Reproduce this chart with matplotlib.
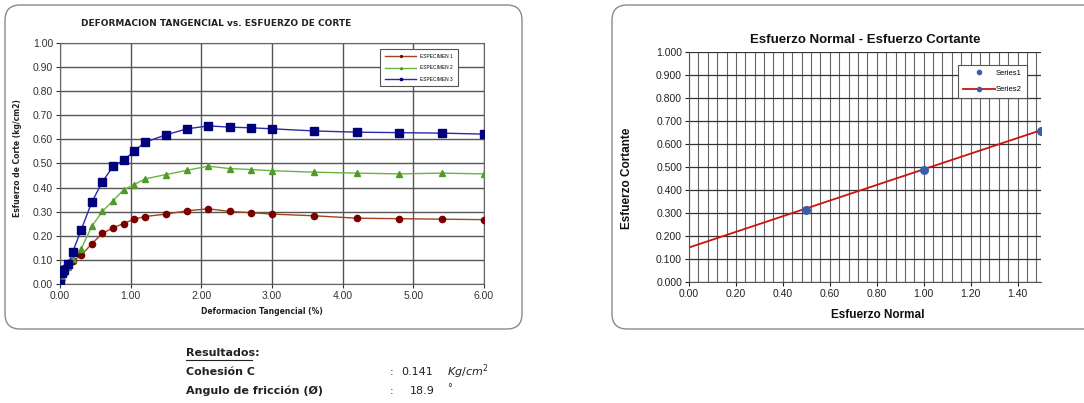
import numpy as np
import matplotlib
matplotlib.use('Agg')
import matplotlib.pyplot as plt
from matplotlib.patches import FancyBboxPatch
from matplotlib.lines import Line2D
from matplotlib.ticker import MultipleLocator

plt.rcParams['font.family'] = ['Liberation Sans', 'DejaVu Sans']

# --------------------------------------------------------------
# Data
# --------------------------------------------------------------
deformacion = [0.00, 0.03, 0.06, 0.12, 0.18, 0.30, 0.45, 0.60, 0.75, 0.90, 1.05, 1.20,
               1.50, 1.80, 2.10, 2.40, 2.70, 3.00, 3.60, 4.20, 4.80, 5.40, 6.00]
especimen_1 = [0.000, 0.055, 0.065, 0.088, 0.095, 0.119, 0.167, 0.210, 0.233, 0.251, 0.269, 0.280,
               0.290, 0.304, 0.312, 0.301, 0.296, 0.290, 0.283, 0.273, 0.271, 0.269, 0.267]
especimen_2 = [0.000, 0.030, 0.050, 0.070, 0.105, 0.146, 0.239, 0.302, 0.345, 0.391, 0.412, 0.436,
               0.454, 0.472, 0.489, 0.479, 0.475, 0.470, 0.464, 0.460, 0.457, 0.460, 0.457]
especimen_3 = [0.000, 0.046, 0.059, 0.084, 0.133, 0.225, 0.340, 0.424, 0.488, 0.514, 0.551, 0.588,
               0.619, 0.644, 0.656, 0.651, 0.648, 0.644, 0.635, 0.630, 0.628, 0.626, 0.622]
especimen_labels = ['ESPECIMEN 1', 'ESPECIMEN 2', 'ESPECIMEN 3']

esf_normal = [0.50, 1.00, 1.50]
esf_cortante = [0.312, 0.487, 0.656]
recta_x = [0.00, 1.50]
recta_y = [0.150, 0.660]

cohesion = '0.141'
angulo = '18.9'

W, H = 1084, 403

def fx(px):
    return px / W

def fy(py):
    return 1 - py / H

fig = plt.figure(figsize=(W / 100, H / 100), dpi=100)

# rounded frames
for x0, y0, x1, y1 in [(5, 5, 522, 329), (612, 5, 1120, 329)]:
    box = FancyBboxPatch((fx(x0), fy(y1)), fx(x1 - x0), (y1 - y0) / H,
                         boxstyle='round,pad=0,rounding_size=0.014',
                         transform=fig.transFigure, fill=False,
                         edgecolor='#8a8a8a', linewidth=1.0,
                         mutation_aspect=W / H)
    fig.add_artist(box)

# --------------------------------------------------------------
# Left chart
# --------------------------------------------------------------
ax1 = fig.add_axes([fx(60), fy(284), fx(424), 241 / H])
ax1.plot(deformacion, especimen_1, color='#a0451c', lw=1.0, marker='o', ms=4.5,
         mfc='#7a0000', mec='#7a0000', label=especimen_labels[0], zorder=3)
ax1.plot(deformacion, especimen_2, color='#6cb33f', lw=1.0, marker='^', ms=5,
         mfc='#4f9a2a', mec='#4f9a2a', label=especimen_labels[1], zorder=3)
ax1.plot(deformacion, especimen_3, color='#2a2aa8', lw=1.0, marker='s', ms=5.5,
         mfc='#00007a', mec='#00007a', label=especimen_labels[2], zorder=3)
ax1.set_xlim(0, 6)
ax1.set_ylim(0, 1)
ax1.xaxis.set_major_locator(MultipleLocator(1))
ax1.yaxis.set_major_locator(MultipleLocator(0.1))
ax1.xaxis.set_major_formatter(lambda v, p: f'{v:.2f}')
ax1.yaxis.set_major_formatter(lambda v, p: f'{v:.2f}')
ax1.grid(True, color='#555555', lw=1.0)
ax1.set_axisbelow(True)
ax1.tick_params(labelsize=7.5, colors='#333333', length=3, width=0.8, direction='out', pad=2)
for s in ax1.spines.values():
    s.set_color('#666666')
    s.set_linewidth(0.8)
leg1 = ax1.legend(loc='upper right', bbox_to_anchor=(0.944, 0.985), fontsize=3.5, frameon=True,
                  fancybox=False, edgecolor='#555555', framealpha=1, handlelength=6.5,
                  markerscale=0.3, labelspacing=1.3, borderpad=1.0, handletextpad=0.8)
leg1.get_frame().set_linewidth(0.8)

fig.text(fx(216), fy(24), 'DEFORMACION TANGENCIAL vs. ESFUERZO DE CORTE', ha='center', va='center',
         fontsize=6.5, fontweight='bold', family=['DejaVu Sans'], color='#222222')
fig.text(fx(18), fy(158), 'Esfuerzo de Corte (kg/cm2)', ha='center', va='center', rotation=90,
         fontsize=5.5, fontweight='bold', family=['DejaVu Sans'], color='#222222')
fig.text(fx(262), fy(312), 'Deformacion Tangencial (%)', ha='center', va='center',
         fontsize=5.5, fontweight='bold', family=['DejaVu Sans'], color='#222222')

# --------------------------------------------------------------
# Right chart
# --------------------------------------------------------------
ax2 = fig.add_axes([fx(689), fy(282), fx(352), 230 / H])
ax2.plot(recta_x, recta_y, color='#cc1111', lw=1.3, zorder=3)
ax2.plot(esf_normal, esf_cortante, ls='none', marker='o', ms=5.5, color='#3a5fa8', zorder=4)
ax2.set_xlim(0, 1.5)
ax2.set_ylim(0, 1)
ax2.xaxis.set_major_locator(MultipleLocator(0.2))
ax2.xaxis.set_minor_locator(MultipleLocator(0.04))
ax2.yaxis.set_major_locator(MultipleLocator(0.1))
ax2.xaxis.set_major_formatter(lambda v, p: f'{v:.2f}')
ax2.yaxis.set_major_formatter(lambda v, p: f'{v:.3f}')
ax2.grid(True, which='major', axis='y', color='#333333', lw=0.9)
ax2.grid(True, which='both', axis='x', color='#666666', lw=0.8)
ax2.set_axisbelow(True)
ax2.tick_params(labelsize=7.5, colors='#222222', length=3, width=0.8, direction='out', pad=2)
ax2.tick_params(which='minor', length=0)
ax2.spines['top'].set_visible(False)
ax2.spines['right'].set_visible(False)
for s in ax2.spines.values():
    s.set_color('#555555')

handles = [Line2D([], [], ls='none', marker='o', ms=3, color='#3a5fa8'),
           Line2D([], [], color='#cc1111', lw=1.3, marker='o', ms=3, mfc='#3a5fa8', mec='#3a5fa8')]
leg2 = ax2.legend(handles, ['Series1', 'Series2'], loc='upper right', bbox_to_anchor=(0.97, 0.96),
                  fontsize=5.5, frameon=True, fancybox=False, edgecolor='#555555', framealpha=1,
                  handlelength=4.2, labelspacing=1.2, borderpad=0.6, handletextpad=0.2)
leg2.get_frame().set_linewidth(0.8)

fig.text(fx(865), fy(40), 'Esfuerzo Normal - Esfuerzo Cortante', ha='center', va='center',
         fontsize=9.5, fontweight='bold', color='#111111')
fig.text(fx(627), fy(178), 'Esfuerzo Cortante', ha='center', va='center', rotation=90,
         fontsize=8.5, fontweight='bold', color='#111111')
fig.text(fx(878), fy(315), 'Esfuerzo Normal', ha='center', va='center',
         fontsize=8.5, fontweight='bold', color='#111111')

# --------------------------------------------------------------
# Results
# --------------------------------------------------------------
fnt = ['DejaVu Sans']
fig.text(fx(186), fy(353), 'Resultados:', ha='left', va='center', fontsize=8, fontweight='bold',
         family=fnt, color='#222222')
fig.add_artist(Line2D([fx(186), fx(252)], [fy(360), fy(360)], color='#222222', lw=0.8))
fig.text(fx(186), fy(372), 'Cohesión C', ha='left', va='center', fontsize=8, fontweight='bold',
         family=fnt, color='#222222')
fig.text(fx(186), fy(391), 'Angulo de fricción (Ø)', ha='left', va='center', fontsize=8,
         fontweight='bold', family=fnt, color='#222222')
fig.text(fx(392), fy(372), ':', ha='center', va='center', fontsize=8, family=fnt, color='#222222')
fig.text(fx(392), fy(391), ':', ha='center', va='center', fontsize=8, family=fnt, color='#222222')
fig.text(fx(433), fy(372), cohesion, ha='right', va='center', fontsize=8, family=fnt, color='#222222')
fig.text(fx(435), fy(391), angulo, ha='right', va='center', fontsize=8, family=fnt, color='#222222')
fig.text(fx(447), fy(372), r'$Kg/cm^2$', ha='left', va='center', fontsize=8, color='#222222')
fig.text(fx(447), fy(388), '°', ha='left', va='center', fontsize=7, family=fnt, color='#222222')

fig.savefig('out.png', dpi=100)
